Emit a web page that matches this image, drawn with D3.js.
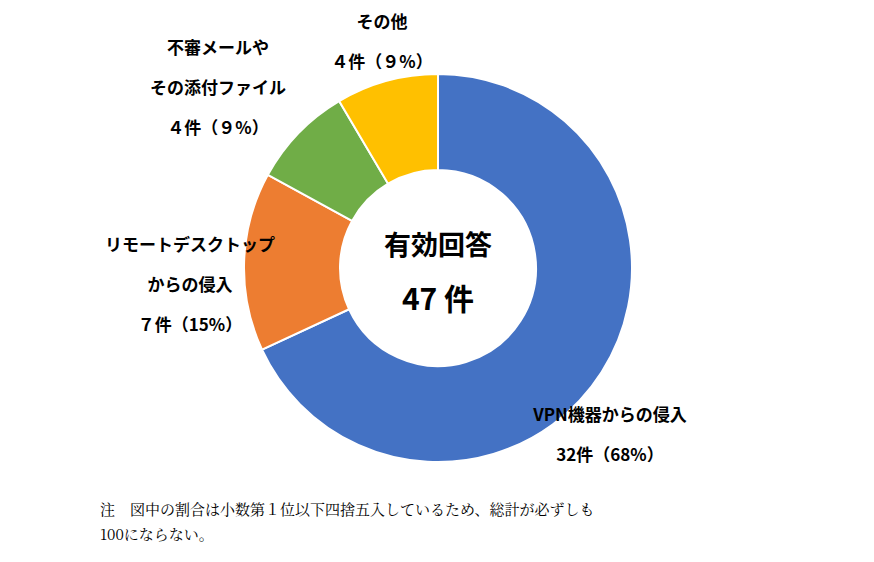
<!DOCTYPE html>
<html>
<head>
<meta charset="utf-8">
<script src="https://cdn.jsdelivr.net/npm/d3@7"></script>
<style>
body { margin: 0; background: #fff; }
text { font-family: "Noto Sans CJK JP", sans-serif; font-weight: bold; fill: #000; }
.note { font-family: "Noto Serif CJK JP", "Liberation Serif", serif; font-weight: normal; }
</style>
</head>
<body>
<div id="chart"></div>
<script>
var categories = ["VPN機器からの侵入", "リモートデスクトップからの侵入", "不審メールやその添付ファイル", "その他"];
var counts = [32, 7, 4, 4];
var colors = ["#4472C4", "#ED7D31", "#70AD47", "#FFC000"];
// label lines per slice
var labelLines = [
  ["VPN機器からの侵入", "32件（68%）"],
  ["リモートデスクトップ", "からの侵入", "７件（15%）"],
  ["不審メールや", "その添付ファイル", "４件（９%）"],
  ["その他", "４件（９%）"]
];
var labelPos = [[610, 415], [190, 245], [218, 48], [382, 22]];

var svgWidth = 874, svgHeight = 562;
var cx = 438, cy = 268, outerR = 194, innerR = 98;

var svg = d3.select("#chart").append("svg")
  .attr("width", svgWidth)
  .attr("height", svgHeight);

var pie = d3.pie().sort(null).value(d => d);
var arc = d3.arc().innerRadius(innerR).outerRadius(outerR);

var g = svg.append("g").attr("transform", `translate(${cx},${cy})`);
g.selectAll("path")
  .data(pie(counts))
  .enter()
  .append("path")
  .attr("d", arc)
  .attr("fill", (d, i) => colors[i])
  .attr("stroke", "#fff")
  .attr("stroke-width", 2);

// center text
g.append("text").attr("text-anchor", "middle").attr("y", -13)
  .style("font-size", "27px").text("有効回答");
g.append("text").attr("text-anchor", "middle").attr("y", 42)
  .style("font-size", "30px").text("47 件");

// slice labels
labelLines.forEach(function(lines, i) {
  var t = svg.append("text").attr("text-anchor", "middle")
    .attr("x", labelPos[i][0]).attr("y", labelPos[i][1] + 6)
    .style("font-size", "17px");
  lines.forEach(function(l, j) {
    t.append("tspan").attr("x", labelPos[i][0]).attr("dy", j == 0 ? 0 : 40).text(l);
  });
});

// note
svg.append("text").attr("class", "note").attr("x", 100).attr("y", 515)
  .style("font-size", "15px").text("注　図中の割合は小数第１位以下四捨五入しているため、総計が必ずしも");
svg.append("text").attr("class", "note").attr("x", 100).attr("y", 540)
  .style("font-size", "15px").text("100にならない。");
</script>
</body>
</html>
